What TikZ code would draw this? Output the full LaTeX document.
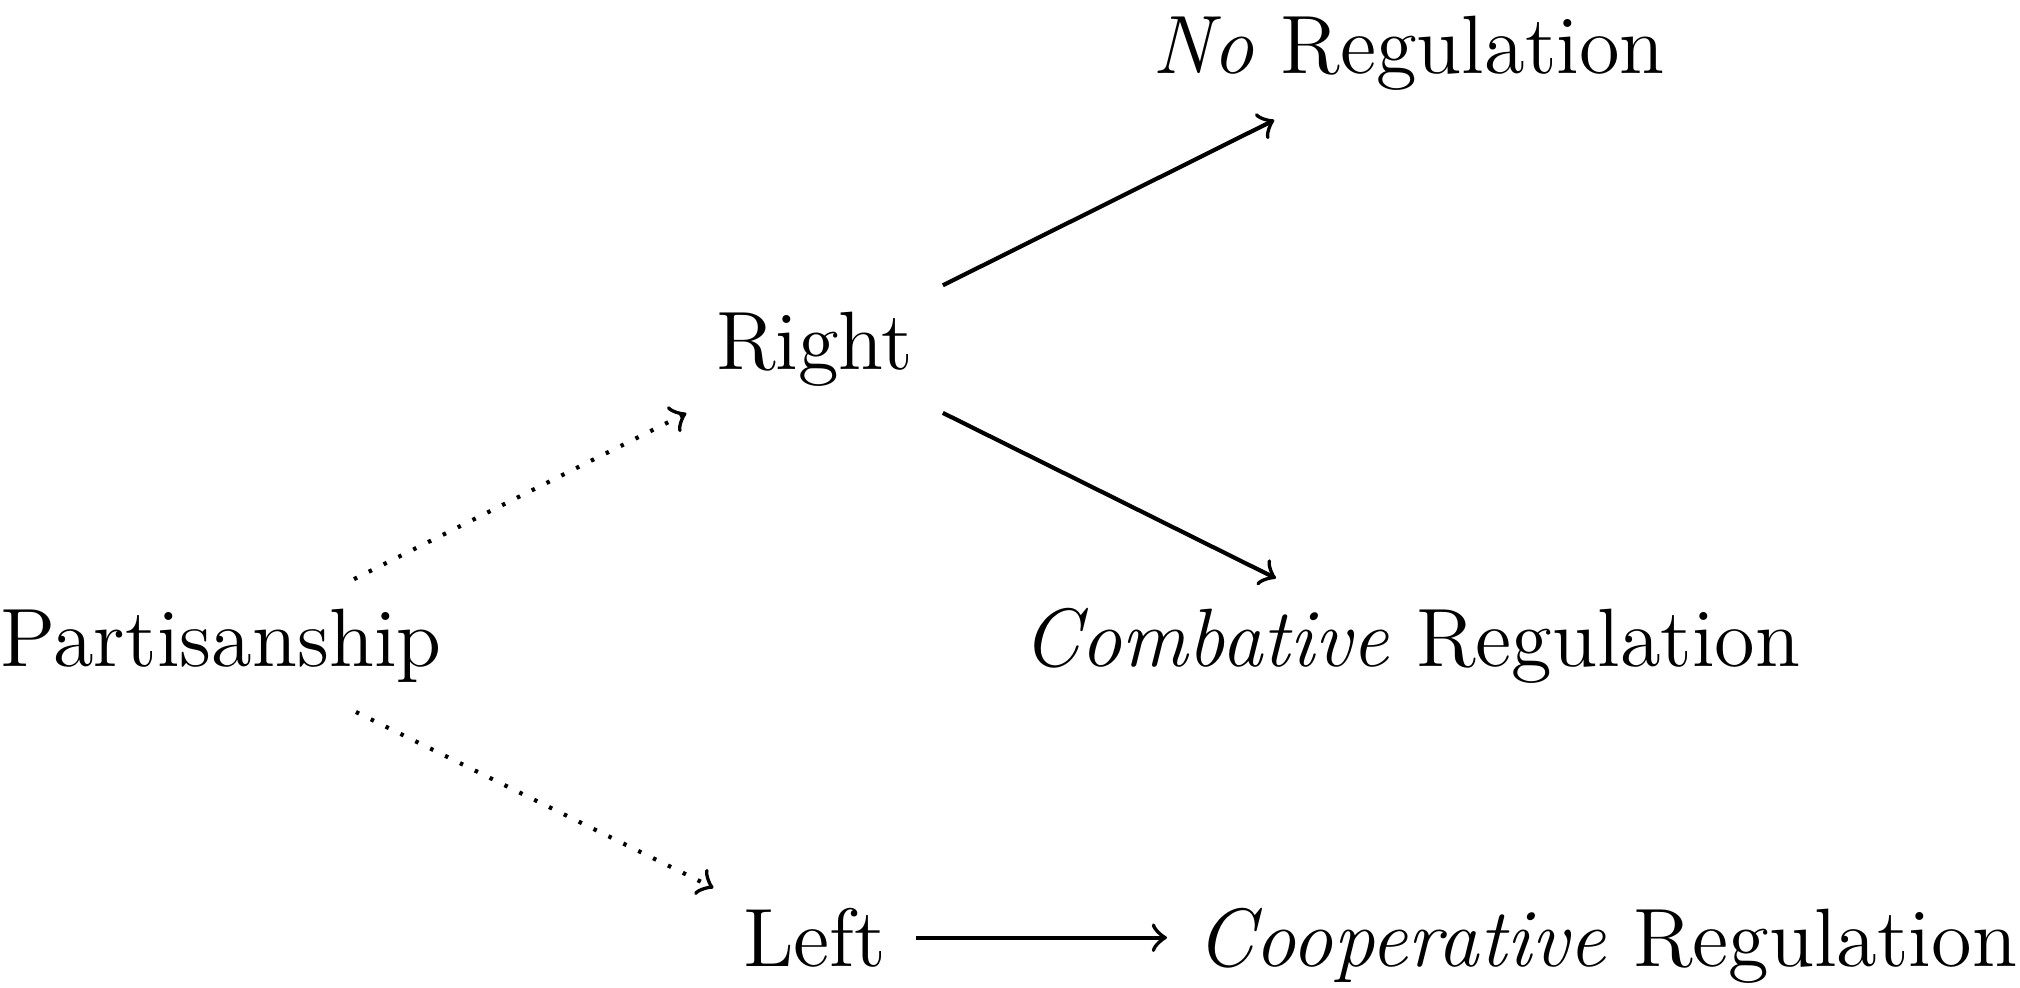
\documentclass[tikz,border=0pt,12pt]{standalone}
\usetikzlibrary{positioning}

\begin{document}
\begin{tikzpicture}[semithick]
    \tikzstyle{stage} = [anchor=base];
    \tikzstyle{effect} = [->];
    \tikzstyle{branch} = [->, dash pattern=on 0.5pt off 1.9pt];

    \useasboundingbox (0, 0) rectangle (292.8pt, -143.2pt);

    \node[stage] (Part) at (1.126, -3.394) {Partisanship};
    \node[stage] (Right) at (4.150, -1.882) {Right};
    \node[stage] (Left) at (4.150, -4.923) {Left};

    \node[stage] (NoReg) at (7.175, -0.374) {\textit{No} Regulation};
    \node[stage] (CombReg) at (7.190, -3.394) {\textit{Combative} Regulation};
    \node[stage, base right = 1.28 of Left] (CoopReg) {\textit{Cooperative} Regulation};

    \draw[branch] (Part) -- (Right);
    \draw[branch] (Part) -- (Left);

    \draw[effect] (Right) -- (NoReg);
    \draw[effect] (Right) -- (CombReg);
    \draw[effect] (Left.east) -- (CoopReg.west |- Left.east);
\end{tikzpicture}
\end{document}
